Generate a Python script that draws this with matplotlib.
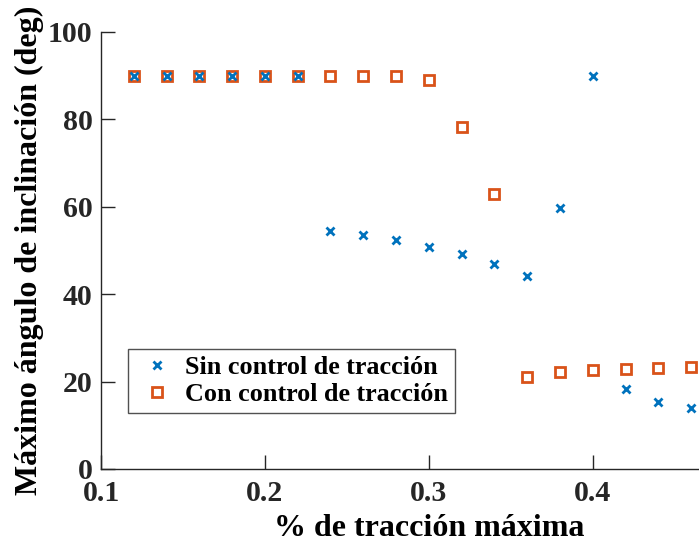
import numpy as np
import matplotlib.pyplot as plt

plt.rcParams['font.family'] = ['Liberation Serif', 'DejaVu Serif']
plt.rcParams['font.weight'] = 'bold'

# % de tracción máxima
traccion = [0.12, 0.14, 0.16, 0.18, 0.20, 0.22, 0.24, 0.26, 0.28,
            0.30, 0.32, 0.34, 0.36, 0.38, 0.40, 0.42, 0.44, 0.46]
# Máximo ángulo de inclinación (deg)
sin_control = [90, 90, 90, 90, 90, 90, 54.5, 53.5, 52.3,
               50.8, 49.2, 46.9, 44.2, 59.7, 90, 18.3, 15.3, 14.0]
con_control = [90, 90, 90, 90, 90, 90, 90, 90, 90,
               89.0, 78.3, 62.9, 21.1, 22.2, 22.6, 22.9, 23.1, 23.3]

azul = '#0072BD'
naranja = '#D95319'
gris = '#262626'

fig = plt.figure(figsize=(6.99, 5.44), dpi=100)
# el eje sigue más allá del borde derecho (la figura original está recortada)
ax = fig.add_axes([0.1445, 0.1379, 0.938, 0.8033])

ax.plot(traccion, sin_control, 'x', color=azul, ms=5.5, mew=2,
        label='Sin control de tracción', zorder=4)
ax.plot(traccion, con_control, 's', color=naranja, mfc='white', ms=6.5, mew=2,
        label='Con control de tracción', zorder=3)

ax.set_xlim(0.1, 0.5)
ax.set_ylim(0, 100)
ax.set_xticks([0.1, 0.2, 0.3, 0.4])
ax.set_xticklabels(['0.1', '0.2', '0.3', '0.4'])
ax.set_yticks([0, 20, 40, 60, 80, 100])

for lado in ['top', 'right']:
    ax.spines[lado].set_visible(False)
for lado in ['left', 'bottom']:
    ax.spines[lado].set_color(gris)
    ax.spines[lado].set_linewidth(1.0)

ax.tick_params(direction='in', length=10, width=1.0, colors=gris,
               labelsize=21.5)
ax.tick_params(axis='x', pad=8)
ax.tick_params(axis='y', pad=6)
for t in ax.get_xticklabels() + ax.get_yticklabels():
    t.set_fontweight('bold')

ax.set_xlabel('% de tracción máxima', fontsize=23, fontweight='bold',
              color='black', labelpad=5)
ax.set_ylabel('Máximo ángulo de inclinación (deg)', fontsize=23, fontweight='bold',
              color='black', labelpad=3)

leg = ax.legend(loc='lower left', bbox_to_anchor=(0.183, 0.241),
                bbox_transform=fig.transFigure, borderaxespad=0,
                fontsize=18.8, frameon=True, fancybox=False, edgecolor=gris,
                handlelength=1.7, handletextpad=0.25, borderpad=0.25,
                labelspacing=0.15)
leg.get_frame().set_linewidth(1.0)
for t in leg.get_texts():
    t.set_fontweight('bold')

fig.savefig('out.png', dpi=100)
